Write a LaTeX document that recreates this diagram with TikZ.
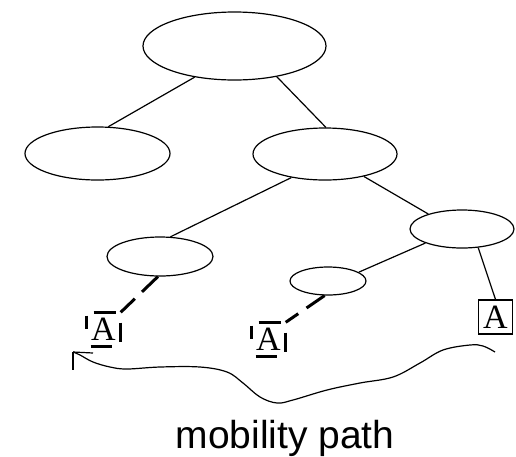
\documentclass[tikz,border=0pt]{standalone}
\usepackage{fontspec}
\setmainfont{Liberation Serif}
\newfontfamily\labelfont{Liberation Sans}
\usetikzlibrary{shapes.geometric}
\begin{document}
\begin{tikzpicture}[x=1pt,y=-1pt,
  oval/.style={draw, ellipse, inner sep=0pt, line width=1.2pt},
  edge/.style={line width=1.2pt},
  dedge/.style={line width=3pt, dash pattern=on 22pt off 10pt},
  abox/.style={inner sep=0pt, minimum width=34pt, minimum height=34pt, font=\fontsize{34}{34}\selectfont},
  sbox/.style={abox, draw, line width=1.2pt},
  dbar/.style={line width=3pt},
  mpath/.style={line width=1.2pt}]
\useasboundingbox (0,0) rectangle (516,456);
\node[oval, minimum width=183pt, minimum height=68pt] (top) at (234.5,46) {};
\node[oval, minimum width=145pt, minimum height=53pt] (lm) at (97.5,153.5) {};
\node[oval, minimum width=144pt, minimum height=52pt] (rm) at (325,154) {};
\node[oval, minimum width=106pt, minimum height=39pt] (ll) at (160,256.5) {};
\node[oval, minimum width=104pt, minimum height=38pt] (rs) at (462,229) {};
\node[oval, minimum width=76pt, minimum height=28pt] (ms) at (328,281) {};
\node[abox] (al) at (103.5,329.5) {A};
\node[abox] (am) at (268.5,339.5) {A};
\node[sbox] (ar) at (495.5,317) {A};
\draw[edge] (top.218) -- (lm.68);
\draw[edge] (top.324.5) -- (rm.88);
\draw[edge] (rm.215) -- (ll.62);
\draw[edge] (rm.330) -- (rs.156.5);
\draw[edge] (rs.201.5) -- (ms.16);
\draw[edge] (rs.311) -- (ar.north);
\draw[dedge] (ll.264) -- (al.north east);
\draw[dedge] (ms.257) -- (am.north east);
\foreach \n in {al,am}{
  \draw[dbar] ([xshift=-10pt]\n.north) -- ([xshift=12pt]\n.north);
  \draw[dbar] ([xshift=-13pt]\n.south) -- ([xshift=8pt]\n.south);
  \draw[dbar] ([yshift=14pt]\n.west) -- ([yshift=1pt]\n.west);
  \draw[dbar] ([yshift=7pt]\n.east) -- ([yshift=-12pt]\n.east);
}
\node[anchor=base, font=\labelfont\fontsize{39}{40}\selectfont] (lbl) at (285,448) {mobility path};
\coordinate (tip) at (73,352);
\draw[mpath] plot[smooth, tension=0.6] coordinates {(495,352) (483,346) (470,345) (443,350) (420,363) (393,377) (360,383) (327,390) (293,400) (277,403) (260,397) (243,383) (227,372) (200,367) (160,367) (127,369) (110,367) (93,362) (80,355) (73,352)};
\draw[mpath] (tip) -- ++(20,1);
\draw[mpath] (tip) -- ++(0,18);
\end{tikzpicture}
\end{document}
